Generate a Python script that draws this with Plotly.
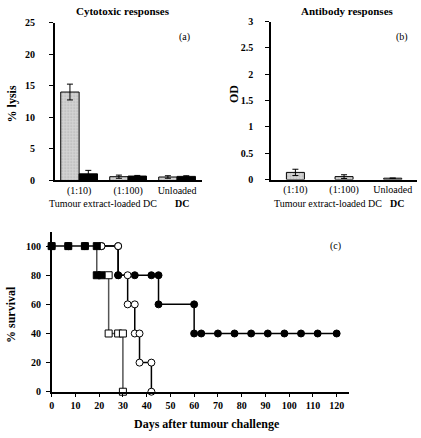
import plotly.graph_objects as go

W, H = 421, 438
SERIF = "Liberation Serif, Times New Roman, DejaVu Serif, serif"

# ---- data ----
dose_cats = ["(1:10)", "(1:100)", "Unloaded"]
lysis_grey = [14.0, 0.6, 0.55]
lysis_grey_err = [1.25, 0.25, 0.2]
lysis_black = [1.05, 0.7, 0.65]
lysis_black_err = [0.55, 0.1, 0.1]
od_vals = [0.135, 0.055, 0.025]
od_err = [0.06, 0.035, 0.0]

days_fc = [0, 7, 14, 21, 28, 28, 35, 42, 45, 45, 60, 60, 63, 70, 77, 84, 91, 98, 105, 112, 120]
surv_fc = [100, 100, 100, 100, 100, 80, 80, 80, 80, 60, 60, 40, 40, 40, 40, 40, 40, 40, 40, 40, 40]
days_oc = [0, 7, 14, 21, 28, 28, 32, 32, 35, 35, 37, 37, 42, 42]
surv_oc = [100, 100, 100, 100, 100, 80, 80, 60, 60, 40, 40, 20, 20, 0]
days_sq = [0, 7, 14, 19, 19, 21, 24, 24, 28, 30, 30]
surv_sq = [100, 100, 100, 100, 80, 80, 80, 40, 40, 40, 0]
sq_filled = [True, True, True, True, True, True, False, False, False, False, False]
oc_filled = [False, False, False, False, False, True, False, False, False, False, False, False, False, False]

ytick_a = [0, 5, 10, 15, 20, 25]
ytick_b = [0, 0.5, 1, 1.5, 2, 2.5, 3]
ytick_b_text = ["0", "0.5", "1", "1.5", "2", "2.5", "3"]
xtick_c = list(range(0, 121, 10))
ytick_c = [0, 20, 40, 60, 80, 100]


def px(x):
    return x / W


def py(y):
    return 1 - y / H


fig = go.Figure()

stipple = dict(shape=".", fgcolor="#8c8c8c", bgcolor="#d4d4d4", size=3, solidity=0.25)
BW = 0.375

fig.add_trace(go.Bar(x=[0, 1, 2], y=lysis_grey, offset=-BW, width=BW,
                     marker=dict(color="#d4d4d4", pattern=stipple, line=dict(color="black", width=1)),
                     error_y=dict(type="data", array=lysis_grey_err, color="black", thickness=1, width=3),
                     xaxis="x", yaxis="y", showlegend=False))
fig.add_trace(go.Bar(x=[0, 1, 2], y=lysis_black, offset=0, width=BW,
                     marker=dict(color="black", line=dict(color="black", width=1)),
                     error_y=dict(type="data", array=lysis_black_err, color="black", thickness=1, width=3),
                     xaxis="x", yaxis="y", showlegend=False))
fig.add_trace(go.Bar(x=[0, 1, 2], y=od_vals, offset=-0.185, width=0.37,
                     marker=dict(color="#d4d4d4", pattern=stipple, line=dict(color="black", width=1)),
                     error_y=dict(type="data", array=od_err, color="black", thickness=1, width=3),
                     xaxis="x2", yaxis="y2", showlegend=False))

# survival curves
fig.add_trace(go.Scatter(x=days_fc, y=surv_fc, mode="lines+markers",
                         line=dict(color="black", width=1.5),
                         marker=dict(symbol="circle", size=7, color="black", line=dict(color="black", width=1)),
                         xaxis="x3", yaxis="y3", cliponaxis=False, showlegend=False))
fig.add_trace(go.Scatter(x=days_oc, y=surv_oc, mode="lines+markers",
                         line=dict(color="black", width=1.5),
                         marker=dict(symbol="circle", size=7,
                                     color=["black" if f else "white" for f in oc_filled],
                                     line=dict(color="black", width=1)),
                         xaxis="x3", yaxis="y3", cliponaxis=False, showlegend=False))
fig.add_trace(go.Scatter(x=days_sq, y=surv_sq, mode="lines+markers",
                         line=dict(color="#555555", width=1.5),
                         marker=dict(symbol="square", size=7,
                                     color=["black" if f else "white" for f in sq_filled],
                                     line=dict(color="black", width=1)),
                         xaxis="x3", yaxis="y3", cliponaxis=False, showlegend=False))

tickfont_b = dict(family=SERIF, size=10, color="black", weight="bold")
catfont = dict(family=SERIF, size=10, color="black")
axcommon = dict(showline=True, linecolor="black", linewidth=1.5, showgrid=False, zeroline=False)

fig.update_layout(
    width=W, height=H, margin=dict(l=0, r=0, t=0, b=0),
    font=dict(family=SERIF),
    paper_bgcolor="white", plot_bgcolor="white", barmode="overlay",
    xaxis=dict(domain=[px(52), px(200)], range=[-0.5, 2.5], tickvals=[0, 1, 2], ticktext=dose_cats,
               tickfont=catfont, ticks="", anchor="y", **axcommon),
    yaxis=dict(domain=[py(180), py(18)], range=[0, 25], tickvals=ytick_a, tickfont=tickfont_b,
               ticks="outside", ticklen=4, tickcolor="black", ticklabelstandoff=12, anchor="x", **axcommon),
    xaxis2=dict(domain=[px(270), px(417)], range=[-0.5, 2.5], tickvals=[0, 1, 2], ticktext=dose_cats,
                tickfont=catfont, ticks="", anchor="y2", **axcommon),
    yaxis2=dict(domain=[py(179), py(17)], range=[0, 3], tickvals=ytick_b, ticktext=ytick_b_text,
                tickfont=tickfont_b, ticks="outside", ticklen=4, tickcolor="black", ticklabelstandoff=10,
                anchor="x2", **axcommon),
    xaxis3=dict(domain=[px(49), px(348)], range=[0, 125], tickvals=xtick_c, tickfont=tickfont_b,
                ticks="outside", ticklen=4, tickcolor="black", anchor="y3", **axcommon),
    yaxis3=dict(domain=[py(396.7), py(232.4)], range=[0, 110], tickvals=ytick_c, tickfont=tickfont_b,
                ticks="outside", ticklen=4, tickcolor="black", ticklabelstandoff=3, anchor="x3", **axcommon),
)


def ann(text, x, y, size=10, bold=False, angle=0):
    fig.add_annotation(text=text, x=px(x), y=py(y), xref="paper", yref="paper", showarrow=False,
                       xanchor="center", yanchor="middle", textangle=angle,
                       font=dict(family=SERIF, size=size, color="black", weight="bold" if bold else "normal"))


ann("Cytotoxic responses", 121, 6, 11, True)
ann("Antibody responses", 347, 6, 11, True)
ann("% lysis", 10, 101, 12, True, -90)
ann("OD", 232, 91, 12, True, -90)
ann("(a)", 183, 33, 10)
ann("(b)", 402, 33, 10)
ann("(c)", 335, 247, 10)
ann("Tumour extract-loaded DC", 101, 204, 10)
ann("DC", 180, 204, 10, True)
ann("Tumour extract-loaded DC", 327, 204, 10)
ann("DC", 397, 204, 10, True)
ann("% survival", 8, 317, 12, True, -90)
ann("Days after tumour challenge", 205, 430, 12, True)

fig.write_html("out.html", config={"displayModeBar": False},
               post_script="document.body.style.margin='0px';")
